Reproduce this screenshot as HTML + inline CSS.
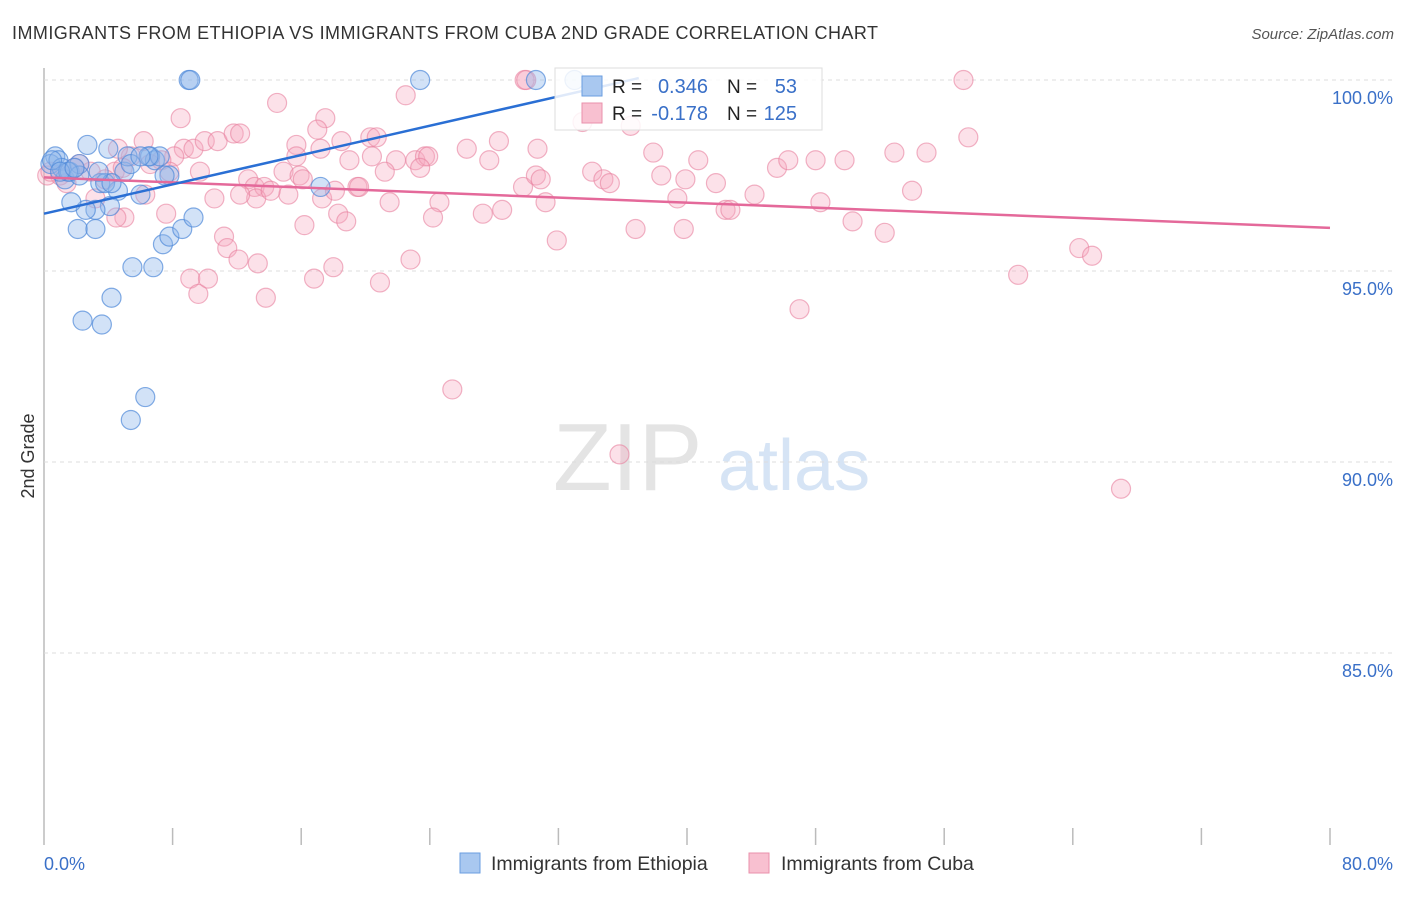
<!DOCTYPE html>
<html><head><meta charset="utf-8"><style>
body{margin:0;background:#fff;font-family:"Liberation Sans",sans-serif}
svg text{font-family:"Liberation Sans",sans-serif}
</style></head><body>
<svg id="chart" width="1406" height="892" xmlns="http://www.w3.org/2000/svg">
<text x="12" y="39" font-size="18" fill="#333" textLength="866" lengthAdjust="spacing">IMMIGRANTS FROM ETHIOPIA VS IMMIGRANTS FROM CUBA 2ND GRADE CORRELATION CHART</text>
<text x="1394" y="39" font-size="15" fill="#555" text-anchor="end" font-style="italic">Source: ZipAtlas.com</text>
<text x="553" y="490" font-size="96" font-family="Liberation Serif" fill="#e4e4e4">ZIP</text>
<text x="718" y="490" font-size="72" fill="#d6e4f5">atlas</text>
<text transform="translate(34,456) rotate(-90)" font-size="18" fill="#333" text-anchor="middle">2nd Grade</text>
<g id="grid"></g><g id="ticks"></g><g id="pts"></g><g id="lines"></g>
<g>
<rect x="555" y="68" width="267" height="62" fill="#fff" fill-opacity="0.85" stroke="#ddd"/>
<rect x="582" y="76" width="20" height="20" fill="#a9c8f0" stroke="#6a9ee0"/>
<rect x="582" y="103" width="20" height="20" fill="#f8c0d0" stroke="#ea90ab"/>
<text x="612" y="93" font-size="19" fill="#222">R =</text>
<text x="708" y="93" font-size="20" fill="#3a70c8" text-anchor="end">0.346</text>
<text x="727" y="93" font-size="19" fill="#222">N =</text>
<text x="797" y="93" font-size="20" fill="#3a70c8" text-anchor="end">53</text>
<text x="612" y="120" font-size="19" fill="#222">R =</text>
<text x="708" y="120" font-size="20" fill="#3a70c8" text-anchor="end">-0.178</text>
<text x="727" y="120" font-size="19" fill="#222">N =</text>
<text x="797" y="120" font-size="20" fill="#3a70c8" text-anchor="end">125</text>
</g>
<text x="44" y="870" font-size="18" fill="#3a70c8">0.0%</text>
<text x="1393" y="870" font-size="18" fill="#3a70c8" text-anchor="end">80.0%</text>
<g>
<rect x="460" y="853" width="20" height="20" fill="#a9c8f0" stroke="#6a9ee0"/>
<text x="491" y="870" font-size="19.5" fill="#333">Immigrants from Ethiopia</text>
<rect x="749" y="853" width="20" height="20" fill="#f8c0d0" stroke="#ea90ab"/>
<text x="781" y="870" font-size="19.5" fill="#333">Immigrants from Cuba</text>
</g>
</svg>
<script>
const yTicks=[100,95,90,85];
const yTickLabels=["100.0%","95.0%","90.0%","85.0%"];
const xTicks=[0,8,16,24,32,40,48,56,64,72,80];
const ethX=[9.0,9.1,23.4,30.6,33.0,0.7,0.4,0.9,1.3,1.1,1.6,2.2,2.7,4.0,3.5,4.6,5.0,5.2,6.0,6.6,6.9,7.2,7.8,6.5,5.4,4.1,3.2,2.6,1.7,2.1,3.2,3.8,4.2,2.2,6.0,7.4,7.8,8.6,9.3,5.5,6.8,4.2,2.4,3.6,6.3,5.4,17.2,1.5,0.5,1.0,3.4,1.9,7.5];
const ethY=[100,100,100,100,100,98.0,97.8,97.9,97.4,97.7,97.6,97.8,98.3,98.2,97.3,97.1,97.6,98.0,97.0,98.0,97.9,98.0,97.5,98.0,97.8,96.7,96.6,96.6,96.8,96.1,96.1,97.3,97.3,97.5,98.0,95.7,95.9,96.1,96.4,95.1,95.1,94.3,93.7,93.6,91.7,91.1,97.2,97.6,97.9,97.6,97.6,97.7,97.5];
const cubX=[29.9,30.0,57.2,8.5,14.5,22.5,17.5,17.0,15.7,15.7,6.2,8.7,9.3,10.0,10.8,11.8,12.2,8.1,7.3,6.6,5.4,4.4,3.8,2.9,1.9,2.2,1.0,0.2,0.4,1.4,4.9,7.8,9.7,10.6,12.7,13.1,13.7,14.9,15.9,15.2,13.2,16.1,17.2,19.0,18.5,20.3,20.7,20.4,21.9,23.1,23.7,23.9,23.4,19.5,19.6,17.3,18.3,18.8,21.5,24.6,24.2,26.3,27.7,28.3,30.7,29.8,30.6,30.9,31.2,28.5,27.3,31.9,34.1,34.8,35.2,36.5,37.9,38.4,39.9,40.7,39.4,39.8,41.8,42.4,42.7,44.2,45.6,46.3,48.0,49.8,52.9,54.9,57.5,54.0,48.3,50.3,52.3,36.8,33.5,7.6,5.0,4.5,3.2,11.2,11.4,12.1,13.3,16.2,9.1,9.6,10.2,13.8,16.8,18.0,20.9,22.8,60.6,64.4,65.2,47.0,25.4,35.8,67.0,12.2,6.3,4.6,14.1,18.1,21.2];
const cubY=[100,100,100,99.0,99.4,99.6,99.0,98.7,98.3,98.0,98.4,98.2,98.2,98.4,98.4,98.6,98.6,98.0,97.9,97.8,98.0,97.6,97.4,97.6,97.7,97.8,97.5,97.5,97.6,97.3,97.7,97.6,97.6,96.9,97.4,97.2,97.2,97.6,97.5,97.0,96.9,97.4,98.2,97.9,98.4,98.5,98.5,98.0,97.9,97.9,98.0,98.0,97.7,97.2,97.2,96.9,96.5,96.3,96.8,96.8,96.4,98.2,97.9,98.4,98.2,97.2,97.5,97.4,96.8,96.6,96.5,95.8,97.6,97.4,97.3,98.8,98.1,97.5,97.4,97.9,96.9,96.1,97.3,96.6,96.6,97.0,97.7,97.9,97.9,97.9,98.1,98.1,98.5,97.1,96.8,96.3,96.0,96.1,98.9,96.5,96.4,96.4,96.9,95.9,95.6,95.3,95.2,96.2,94.8,94.4,94.8,94.3,94.8,95.1,94.7,95.3,94.9,95.6,95.4,94.0,91.9,90.2,89.3,97.0,97.0,98.2,97.1,97.1,97.6];
const ethLineX=[0,37];const ethLineY=[96.5,100.05];
const cubLineX=[0,80];const cubLineY=[97.45,96.13];
const NS="http://www.w3.org/2000/svg";
const sx=v=>44+v*(1286/80);
const sy=v=>80+(100-v)*38.2;
function mk(tag,attrs,parent){const e=document.createElementNS(NS,tag);for(const k in attrs)e.setAttribute(k,attrs[k]);document.getElementById(parent).appendChild(e);return e;}
const ax=mk('line',{x1:44,y1:68,x2:44,y2:845,stroke:'#bbb','stroke-width':1.5},'grid');


yTicks.forEach((t,i)=>{
 const g=mk('line',{x1:44,x2:1393,y1:sy(t),y2:sy(t),stroke:'#ddd','stroke-dasharray':'4,4'},'grid');
 
 
 const l=mk('text',{x:1393,y:sy(t)+24,'font-size':18,fill:'#3a70c8','text-anchor':'end'},'grid');
 l.textContent=yTickLabels[i];
 
 
});
xTicks.forEach(t=>{
 if(t===0)return;
 const k=mk('line',{x1:sx(t),x2:sx(t),y1:828,y2:845,stroke:'#bbb','stroke-width':1.5},'ticks');
 
 
});
cubX.forEach((x,i)=>{
 const c=mk('circle',{cx:sx(x),cy:sy(cubY[i]),r:9.5,fill:'#f5a8c0','fill-opacity':0.35,stroke:'#e8809f','stroke-opacity':0.6,'stroke-width':1.2},'pts');
 
 
});
ethX.forEach((x,i)=>{
 const c=mk('circle',{cx:sx(x),cy:sy(ethY[i]),r:9.5,fill:'#8fb6ea','fill-opacity':0.4,stroke:'#4f89d8','stroke-opacity':0.7,'stroke-width':1.2},'pts');
 
 
});
const l1=mk('line',{x1:sx(cubLineX[0]),y1:sy(cubLineY[0]),x2:sx(cubLineX[1]),y2:sy(cubLineY[1]),stroke:'#e4699a','stroke-width':2.5},'lines');


const l2=mk('line',{x1:sx(ethLineX[0]),y1:sy(ethLineY[0]),x2:sx(ethLineX[1]),y2:sy(ethLineY[1]),stroke:'#2a6fd4','stroke-width':2.5},'lines');


</script>
</body></html>
